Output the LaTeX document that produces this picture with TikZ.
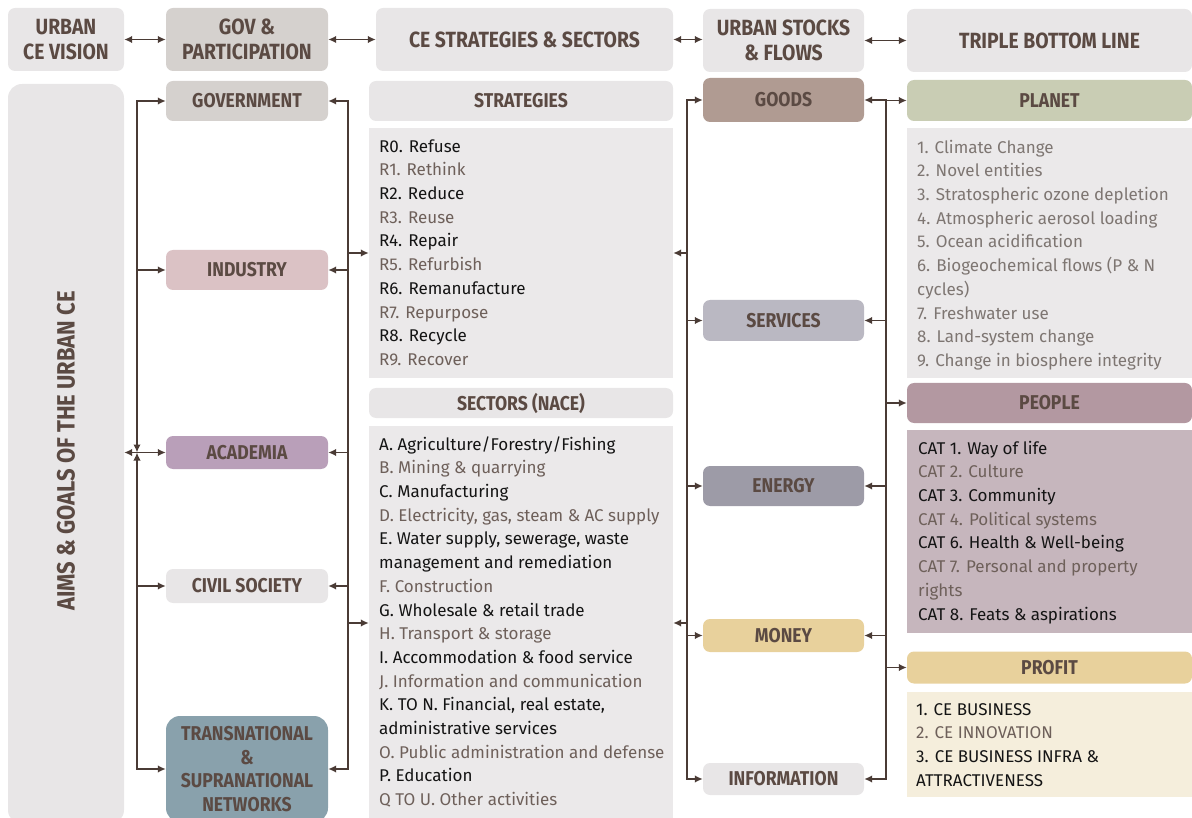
\documentclass[tikz,border=0pt]{standalone}
\usepackage{fontspec}
\setmainfont{Fira Sans}
\newfontfamily\hdrfont{Fira Sans}[FakeStretch=0.88]
\newfontfamily\bodyfont{Fira Sans}
\usetikzlibrary{arrows.meta}

\definecolor{lightbox}{HTML}{E8E6E7}
\definecolor{listbg}{HTML}{EBE9EA}
\definecolor{govfill}{HTML}{D5D1CE}
\definecolor{indfill}{HTML}{DBC2C5}
\definecolor{acadfill}{HTML}{B99FB9}
\definecolor{transfill}{HTML}{89A1AC}
\definecolor{goodsfill}{HTML}{B09B92}
\definecolor{servfill}{HTML}{BAB8C2}
\definecolor{energyfill}{HTML}{9D9BA7}
\definecolor{moneyfill}{HTML}{E8D19C}
\definecolor{planetfill}{HTML}{C9CDB4}
\definecolor{peoplefill}{HTML}{B398A1}
\definecolor{peoplebg}{HTML}{C6B6BD}
\definecolor{profitbg}{HTML}{F5EEDC}
\definecolor{linecol}{HTML}{4A3B35}
\definecolor{hdrtext}{HTML}{5B4A43}
\definecolor{dk}{HTML}{141414}
\definecolor{lt}{HTML}{6E605A}
\definecolor{gy}{HTML}{7E7672}

\newcommand{\lt}[1]{\textcolor{lt}{#1}}

\tikzset{
  hbox/.style={rounded corners=7pt, inner sep=0pt, align=center, text=hdrtext,
    font=\hdrfont\bfseries\fontsize{20}{23.5}\selectfont},
  topbox/.style={hbox, minimum height=63pt,
    font=\hdrfont\bfseries\fontsize{22}{25}\selectfont},
  listbox/.style={fill=listbg, inner sep=0pt},
  listtext/.style={anchor=north west, align=left, inner sep=0pt, text=dk,
    font=\bodyfont\fontsize{17}{23.7}\selectfont},
  link/.style={draw=linecol, line width=1.9pt},
  arr/.style={link, -{Latex[length=8pt,width=7.5pt]}},
  darr/.style={link, {Latex[length=8pt,width=7.5pt]}-{Latex[length=8pt,width=7.5pt]}},
}

\begin{document}
\begin{tikzpicture}[x=1pt,y=-1pt]
\useasboundingbox (0,0) rectangle (1192,818);

% ---- column headers
\node[topbox, fill=lightbox, minimum width=116pt] (vision) at (66,39.5) {URBAN\\CE VISION};
\node[topbox, fill=govfill, minimum width=162pt] (govpart) at (247,39.5) {GOV \&\\PARTICIPATION};
\node[topbox, fill=lightbox, minimum width=297pt] (cess) at (524.5,39.5) {CE STRATEGIES \& SECTORS};
\node[topbox, fill=lightbox, minimum width=161pt] (stocks) at (783.5,40.5) {URBAN STOCKS\\\& FLOWS};
\node[topbox, fill=lightbox, minimum width=285pt] (tbl) at (1049.5,40.5) {TRIPLE BOTTOM LINE};

\draw[darr] (vision.east) -- (govpart.west);
\draw[darr] (govpart.east) -- (cess.west);
\draw[darr] (cess.east) -- (cess.east -| stocks.west);
\draw[darr] (stocks.east) -- (tbl.west);

% ---- aims column
\node[fill=lightbox, rounded corners=14pt, minimum width=116pt, minimum height=740pt, inner sep=0pt] (aims) at (66,454) {};
\node[rotate=90, text=hdrtext, inner sep=0pt, font=\hdrfont\bfseries\fontsize{25}{28}\selectfont] (aimslabel) at (66,451) {AIMS \& GOALS OF THE URBAN CE};

% ---- governance and participation actors
\node[hbox, fill=govfill, minimum width=162pt, minimum height=40pt] (gov) at (247,101) {GOVERNMENT};
\node[hbox, fill=indfill, minimum width=162pt, minimum height=40pt] (ind) at (247,270) {INDUSTRY};
\node[hbox, fill=acadfill, minimum width=162pt, minimum height=33pt] (acad) at (247,452.5) {ACADEMIA};
\node[hbox, fill=lightbox, minimum width=162pt, minimum height=34pt] (civ) at (247,586) {CIVIL SOCIETY};
\node[hbox, fill=transfill, rounded corners=14pt, minimum width=162pt, minimum height=106pt] (trans) at (247,769) {TRANSNATIONAL\\\&\\SUPRANATIONAL\\NETWORKS};

% ---- strategies and sectors
\node[hbox, fill=lightbox, minimum width=304pt, minimum height=40pt] (stratH) at (521,101) {STRATEGIES};
\node[listbox, minimum width=304pt, minimum height=250pt] (stratL) at (521,253) {};
\node[listtext] (stratT) at (379,135.4) {\strut R0. Refuse\\\lt{R1. Rethink}\\R2. Reduce\\\lt{R3. Reuse}\\R4. Repair\\\lt{R5. Refurbish}\\R6. Remanufacture\\\lt{R7. Repurpose}\\R8. Recycle\\\lt{R9. Recover}};

\node[hbox, fill=lightbox, minimum width=304pt, minimum height=30pt] (secH) at (521,403) {SECTORS (NACE)};
\node[listbox, minimum width=304pt, minimum height=394pt] (secL) at (521,623) {};
\node[listtext] (secT) at (379,433.4) {\strut A. Agriculture/Forestry/Fishing\\\lt{B. Mining \& quarrying}\\C. Manufacturing\\\lt{D. Electricity, gas, steam \& AC supply}\\E. Water supply, sewerage, waste\\management and remediation\\\lt{F. Construction}\\G. Wholesale \& retail trade\\\lt{H. Transport \& storage}\\I. Accommodation \& food service\\\lt{J. Information and communication}\\K. TO N. Financial, real estate,\\administrative services\\\lt{O. Public administration and defense}\\P. Education\\\lt{Q TO U. Other activities}};

% ---- urban stocks and flows
\node[hbox, fill=goodsfill, minimum width=161pt, minimum height=44pt] (goods) at (783.5,100) {GOODS};
\node[hbox, fill=servfill, minimum width=161pt, minimum height=41pt] (serv) at (783.5,320.5) {SERVICES};
\node[hbox, fill=energyfill, minimum width=161pt, minimum height=40pt] (energy) at (783.5,486) {ENERGY};
\node[hbox, fill=moneyfill, minimum width=161pt, minimum height=33pt] (money) at (783.5,635.5) {MONEY};
\node[hbox, fill=lightbox, minimum width=161pt, minimum height=32pt] (info) at (783.5,779) {INFORMATION};

% ---- triple bottom line
\node[hbox, fill=planetfill, minimum width=285pt, minimum height=41pt] (planet) at (1049.5,100.5) {PLANET};
\node[listbox, minimum width=285pt, minimum height=250pt] (planetL) at (1049.5,253) {};
\node[listtext, text=gy] (planetT) at (917,136.4) {\strut 1. Climate Change\\2. Novel entities\\3. Stratospheric ozone depletion\\4. Atmospheric aerosol loading\\5. Ocean acidification\\6. Biogeochemical flows (P \& N\\cycles)\\7. Freshwater use\\8. Land-system change\\9. Change in biosphere integrity};

\node[hbox, fill=peoplefill, minimum width=285pt, minimum height=40pt] (people) at (1049.5,403) {PEOPLE};
\node[listbox, fill=peoplebg, minimum width=285pt, minimum height=203pt] (peopleL) at (1049.5,531.5) {};
\node[listtext] (peopleT) at (918,437.4) {\strut CAT 1. Way of life\\\lt{CAT 2. Culture}\\CAT 3. Community\\\lt{CAT 4. Political systems}\\CAT 6. Health \& Well-being\\\lt{CAT 7. Personal and property}\\\lt{rights}\\CAT 8. Feats \& aspirations};

\node[hbox, fill=moneyfill, minimum width=285pt, minimum height=32pt] (profit) at (1049.5,667.5) {PROFIT};
\node[listbox, fill=profitbg, minimum width=285pt, minimum height=105pt] (profitL) at (1049.5,744.5) {};
\node[listtext] (profitT) at (916,698.4) {\strut 1. CE BUSINESS\\\lt{2. CE INNOVATION}\\3. CE BUSINESS INFRA \&\\ATTRACTIVENESS};

% ---- bus positions
\coordinate (lb) at (137,0);
\coordinate (rb) at (348,0);
\coordinate (mb) at (687,0);
\coordinate (xb) at (886,0);

% left bus: aims <-> actors
\draw[darr] (acad.west -| lb) |- (gov.west);
\draw[darr] (acad.west -| lb) |- (trans.west);
\draw[arr] (ind.west -| lb) -- (ind.west);
\draw[arr] (civ.west -| lb) -- (civ.west);
\draw[arr] (acad.west -| lb) -- (acad.west);
\draw[arr] (acad.west -| lb) -- (aims.east |- acad.west);

% actors <-> strategies and sectors
\draw[darr] (gov.east) -| (trans.east -| rb) -- (trans.east);
\draw[arr] (ind.east -| rb) -- (ind.east);
\draw[arr] (acad.east -| rb) -- (acad.east);
\draw[arr] (civ.east -| rb) -- (civ.east);
\draw[arr] (stratL.west -| rb) -- (stratL.west);
\draw[arr] (secL.west -| rb) -- (secL.west);

% strategies and sectors <-> stocks and flows
\draw[darr] (goods.west) -| (info.west -| mb) -- (info.west);
\draw[arr] (serv.west -| mb) -- (serv.west);
\draw[arr] (energy.west -| mb) -- (energy.west);
\draw[arr] (money.west -| mb) -- (money.west);
\draw[arr] (stratL.east -| mb) -- (stratL.east);
\draw[arr] (secL.east -| mb) -- (secL.east);

% stocks and flows <-> triple bottom line
\draw[darr] (goods.east) -| (info.east -| xb) -- (info.east);
\draw[arr] (serv.east -| xb) -- (serv.east);
\draw[arr] (energy.east -| xb) -- (energy.east);
\draw[arr] (money.east -| xb) -- (money.east);
\draw[arr] (planet.west -| xb) -- (planet.west);
\draw[arr] (people.west -| xb) -- (people.west);
\draw[arr] (profit.west -| xb) -- (profit.west);
\end{tikzpicture}
\end{document}
